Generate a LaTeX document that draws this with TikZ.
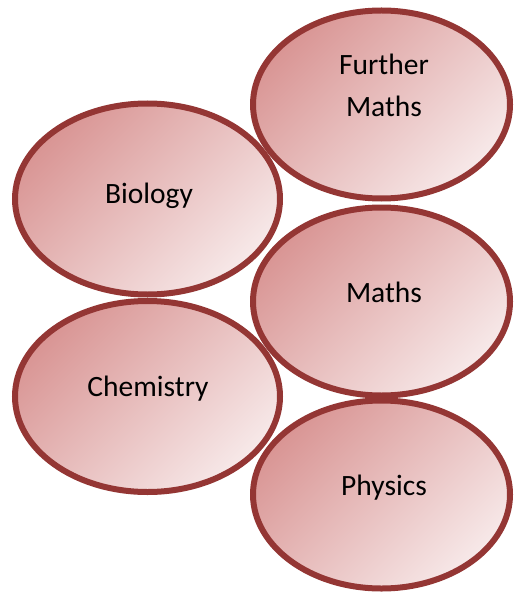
\documentclass[tikz,border=0pt]{standalone}
\usepackage{fontspec}
\setmainfont{Carlito}
\usetikzlibrary{shapes.geometric}
\definecolor{rim}{HTML}{943634}
\definecolor{fillDark}{HTML}{D99594}
\definecolor{fillLight}{HTML}{F7E9E9}

\begin{document}
\begin{tikzpicture}[
        x=1pt, y=-1pt,
        every node/.style={font=\fontsize{29.5}{42}\selectfont},
        bubble/.style={ellipse, draw=rim, line width=6pt, inner sep=0pt,
            top color=fillDark, bottom color=fillLight, shading angle=45},
        leftbubble/.style={bubble, minimum width=265pt, minimum height=191pt},
        rightbubble/.style={bubble, minimum width=257pt, minimum height=188pt},
        subject/.style={anchor=base, align=center, text=black}
    ]

    \useasboundingbox (0,0) rectangle (517,596);

    \node[rightbubble] (further) at (381.5,104.5) {};
    \node[leftbubble] (biology) at (147.5,199) {};
    \node[rightbubble] (maths) at (381.5,301.5) {};
    \node[leftbubble] (chemistry) at (147.5,396.5) {};
    \node[rightbubble] (physics) at (381.5,494.5) {};

    % base of a two-line node is its last line
    \node[subject] (furtherTxt) at (384,117) {Further\\Maths};
    \node[subject] (biologyTxt) at (149,203) {Biology};
    \node[subject] (mathsTxt) at (384,302) {Maths};
    \node[subject] (chemistryTxt) at (148,396) {Chemistry};
    \node[subject] (physicsTxt) at (384,495) {Physics};

\end{tikzpicture}
\end{document}
